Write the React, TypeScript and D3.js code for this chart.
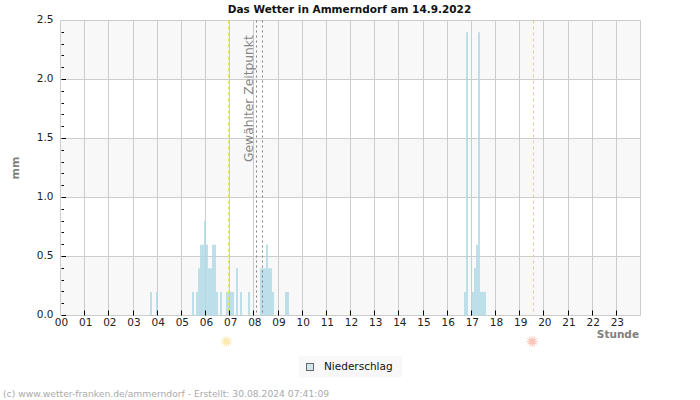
import React, { useEffect, useRef } from "react";
import * as d3 from "d3";

const title = "Das Wetter in Ammerndorf am 14.9.2022";
const footer = "(c) www.wetter-franken.de/ammerndorf - Erstellt: 30.08.2024 07:41:09";
const hours = d3.range(0, 24);
const yMajor = [0, 0.5, 1, 1.5, 2, 2.5];
const yMinor = d3.range(0, 25).map((d) => d / 10);
const bands = [[0, 0.5], [1, 1.5], [2, 2.5]];

// index of the 5 minute interval and the rain that fell in it (mm)
const rainBins = [45, 48, 66, 68, 69, 70, 71, 72, 73, 74, 75, 76, 77, 78, 80, 83, 84, 85, 86, 88, 90, 94, 100, 101, 102, 103, 104, 105, 106, 112, 113, 201, 202, 205, 206, 207, 208, 209, 210, 211];
const rainValues = [0.2, 0.2, 0.2, 0.2, 0.4, 0.6, 0.6, 0.8, 0.6, 0.4, 0.4, 0.6, 0.6, 0.2, 0.2, 0.2, 0.2, 0.2, 0.2, 0.4, 0.2, 0.2, 0.4, 0.4, 0.4, 0.6, 0.4, 0.4, 0.2, 0.2, 0.2, 0.2, 2.4, 0.2, 0.4, 0.6, 2.4, 0.2, 0.2, 0.2];

const sunrise = 6.97;
const sunset = 19.58;
const selectedTimes = [8.1, 8.35];

function drawSun(svg: d3.Selection<SVGSVGElement, unknown, null, undefined>, cx: number, cy: number, color: string) {
	const g = svg.append("g").attr("transform", `translate(${cx},${cy})`).attr("opacity", 0.6);
	g.selectAll("line")
		.data(d3.range(0, 12))
		.enter()
		.append("line")
		.attr("x1", 0)
		.attr("y1", 3)
		.attr("x2", 0)
		.attr("y2", 5.5)
		.attr("transform", (d) => `rotate(${d * 30})`)
		.attr("stroke", color)
		.attr("stroke-width", 1);
	g.append("circle").attr("r", 3.2).attr("fill", color);
}

function draw(ref: SVGSVGElement) {
	const svg = d3.select(ref);
	svg.selectAll("*").remove();
	const font = "'DejaVu Sans', sans-serif";
	const left = 60.5;
	const right = 640.5;
	const top = 20.5;
	const bottom = 315.5;
	const x = d3.scaleLinear().domain([0, 24]).range([left, right]);
	const y = d3.scaleLinear().domain([0, 2.5]).range([bottom, top]);

	// alternating background bands
	svg.append("g")
		.selectAll("rect")
		.data(bands)
		.enter()
		.append("rect")
		.attr("x", left)
		.attr("y", (d) => y(d[1]))
		.attr("width", right - left)
		.attr("height", (d) => y(d[0]) - y(d[1]))
		.attr("fill", "#f8f8f8");

	// grid
	const grid = svg.append("g").attr("stroke", "#cccccc").attr("stroke-width", 1);
	grid.selectAll("line.h")
		.data(yMajor)
		.enter()
		.append("line")
		.attr("class", "h")
		.attr("x1", left)
		.attr("x2", right)
		.attr("y1", (d) => y(d))
		.attr("y2", (d) => y(d));
	grid.selectAll("line.v")
		.data([...hours, 24])
		.enter()
		.append("line")
		.attr("class", "v")
		.attr("x1", (d) => Math.floor(x(d)) + 0.5)
		.attr("x2", (d) => Math.floor(x(d)) + 0.5)
		.attr("y1", top)
		.attr("y2", bottom);

	// rain bars
	svg.append("g")
		.selectAll("rect")
		.data(rainBins)
		.enter()
		.append("rect")
		.attr("x", (d) => Math.round(x((d * 5) / 60) - 1.5))
		.attr("y", (d, i) => y(rainValues[i]))
		.attr("width", 2)
		.attr("height", (d, i) => bottom - y(rainValues[i]))
		.attr("fill", "#add8e6")
		.attr("fill-opacity", 0.8);

	// sunrise, sunset and selected time markers
	const marker = (hour: number, color: string, dash: string) =>
		svg.append("line")
			.attr("x1", Math.floor(x(hour)) + 0.5)
			.attr("x2", Math.floor(x(hour)) + 0.5)
			.attr("y1", top)
			.attr("y2", bottom)
			.attr("stroke", color)
			.attr("stroke-width", 1)
			.attr("stroke-dasharray", dash);
	marker(sunrise, "#eee050", "3,3");
	marker(sunset, "#f0c890", "3,3");
	selectedTimes.forEach((t) => marker(t, "#808080", "2,3"));

	// y ticks are drawn inside the plot, labels outside
	svg.append("g")
		.selectAll("line")
		.data(yMinor)
		.enter()
		.append("line")
		.attr("x1", left + 1)
		.attr("x2", (d) => left + (yMajor.includes(d) ? 5.5 : 3.5))
		.attr("y1", (d) => Math.floor(y(d)) + 0.5)
		.attr("y2", (d) => Math.floor(y(d)) + 0.5)
		.attr("stroke", "#000");
	svg.append("g")
		.selectAll("text")
		.data(yMajor)
		.enter()
		.append("text")
		.attr("x", 53.5)
		.attr("y", (d) => y(d) + 2.5)
		.attr("text-anchor", "end")
		.attr("font-family", font)
		.attr("font-size", 10.5)
		.attr("fill", "#222")
		.text((d) => d.toFixed(1));

	// hour ticks and labels
	svg.append("g")
		.selectAll("line")
		.data(hours.slice(1))
		.enter()
		.append("line")
		.attr("x1", (d) => Math.floor(x(d)) + 0.5)
		.attr("x2", (d) => Math.floor(x(d)) + 0.5)
		.attr("y1", bottom - 5)
		.attr("y2", bottom)
		.attr("stroke", "#000");
	svg.append("g")
		.selectAll("text")
		.data(hours)
		.enter()
		.append("text")
		.attr("x", (d) => x(d) + 1)
		.attr("y", 326)
		.attr("text-anchor", "middle")
		.attr("font-family", font)
		.attr("font-size", 10.5)
		.attr("fill", "#222")
		.text((d) => d3.format("02d")(d));

	drawSun(svg, x(sunrise) - 2.5, 341.5, "#fddc80");
	drawSun(svg, x(sunset) - 1.5, 341.5, "#fca088");

	// titles
	svg.append("text")
		.attr("x", 349.5)
		.attr("y", 12.5)
		.attr("text-anchor", "middle")
		.attr("font-family", font)
		.attr("font-size", 10.5)
		.attr("font-weight", "bold")
		.attr("fill", "#111")
		.text(title);
	svg.append("text")
		.attr("x", 639)
		.attr("y", 338)
		.attr("text-anchor", "end")
		.attr("font-family", font)
		.attr("font-size", 10.5)
		.attr("font-weight", "bold")
		.attr("fill", "#808080")
		.text("Stunde");
	svg.append("text")
		.attr("transform", "translate(19,168) rotate(-90)")
		.attr("text-anchor", "middle")
		.attr("font-family", font)
		.attr("font-size", 11)
		.attr("font-weight", "bold")
		.attr("fill", "#808080")
		.text("mm");
	svg.append("text")
		.attr("transform", "translate(253,162) rotate(-90)")
		.attr("font-family", font)
		.attr("font-size", 12.3)
		.attr("fill", "#888888")
		.text("Gewählter Zeitpunkt");

	// legend
	svg.append("rect").attr("x", 299).attr("y", 356).attr("width", 103).attr("height", 21).attr("fill", "#f8f8f8");
	svg.append("rect").attr("x", 306.5).attr("y", 363.5).attr("width", 7).attr("height", 7).attr("fill", "#cfe6ee").attr("stroke", "#666");
	svg.append("text")
		.attr("x", 324)
		.attr("y", 370)
		.attr("font-family", font)
		.attr("font-size", 10.5)
		.attr("fill", "#111")
		.text("Niederschlag");

	svg.append("text")
		.attr("x", 3)
		.attr("y", 397)
		.attr("font-family", font)
		.attr("font-size", 9.2)
		.attr("fill", "#aaaaaa")
		.text(footer);
}

export default function App() {
	const ref = useRef<SVGSVGElement>(null);
	useEffect(() => {
		if (!ref.current) return;
		draw(ref.current);
	}, []);
	return <svg ref={ref} width={700} height={400} style={{ position: "absolute", left: 0, top: 0, background: "#fff" }} />;
}
